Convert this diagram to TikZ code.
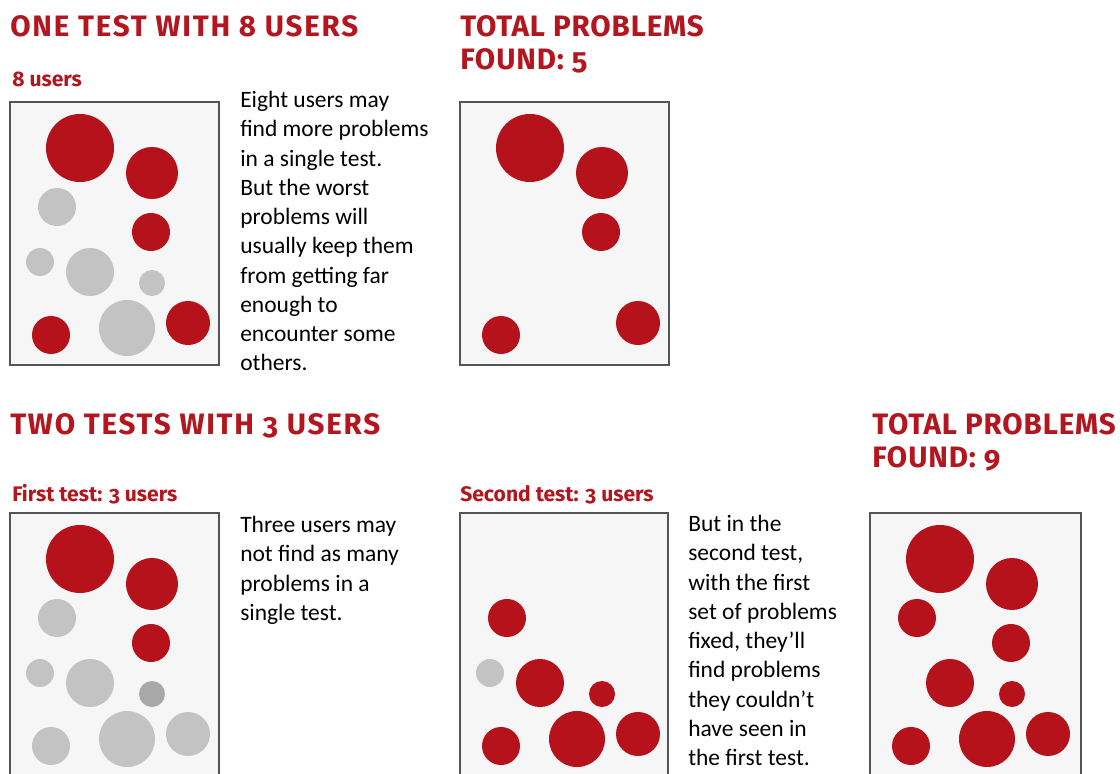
\documentclass[tikz,border=0pt]{standalone}
\usepackage{fontspec}
\setmainfont{Carlito}
\newfontfamily\headfont[Numbers=OldStyle, LetterSpace=6]{Fira Sans}
\newfontfamily\totalfont[Numbers=OldStyle, LetterSpace=3]{Fira Sans}
\newfontfamily\subfont[Numbers=OldStyle]{Fira Sans}
\usepackage{tikz}
\usetikzlibrary{positioning}
\definecolor{probred}{HTML}{B5121B}
\definecolor{headred}{HTML}{B3161E}
\definecolor{missgrey}{HTML}{C3C3C3}
\definecolor{faintgrey}{HTML}{A8A8A8}
\definecolor{boxfill}{HTML}{F6F6F6}
\definecolor{framegrey}{HTML}{555555}

\begin{document}
\begin{tikzpicture}[x=0.025cm, y=-0.025cm,
            head/.style ={anchor=base west, inner sep=0pt, text=headred, align=left,
            font=\headfont\bfseries\fontsize{21}{24}\selectfont},
            total/.style ={head, font=\totalfont\bfseries\fontsize{21}{24}\selectfont},
            sub/.style ={anchor=base west, inner sep=0pt, text=headred,
            font=\subfont\bfseries\fontsize{15}{18}\selectfont},
            note/.style ={anchor=north west, inner sep=0pt, align=left,
            font=\fontsize{16.7}{20.8}\selectfont},
            panel/.style ={draw=framegrey, fill=boxfill, line width=1.6pt},
            found/.style ={circle, fill=probred, inner sep=0pt, minimum size=#1*0.05cm},
            missed/.style ={circle, fill=missgrey, inner sep=0pt, minimum size=#1*0.05cm},
            faint/.style ={circle, fill=faintgrey, inner sep=0pt, minimum size=#1*0.05cm}]

        \useasboundingbox[fill=white] (0,0) rectangle (1120,774);

        % one test with 8 users
        \node[head] (title1) at (10,37) {ONE TEST WITH 8 USERS};
        \node[sub] (sub1) at (12,87) {8 users};
        \draw[panel] (10,102) rectangle (219,365);
        \begin{scope}[shift={(10,102)}]
        \node[found=34] (a1) at (70,46) {};
        \node[found=26] (a2) at (142,71) {};
        \node[missed=19] (a3) at (47,105) {};
        \node[found=19] (a4) at (141,130) {};
        \node[missed=14] (a5) at (30,160) {};
        \node[missed=24] (a6) at (80,170) {};
        \node[missed=13] (a7) at (142,181) {};
        \node[missed=28] (a8) at (117,226) {};
        \node[found=19] (a9) at (41,233) {};
        \node[found=22] (a10) at (178,221) {};
        \end{scope}
        \node[note] (note1) at (240,91) {Eight users may\\find more problems\\in a single test.\\But the worst\\problems will\\usually keep them\\from getting far\\enough to\\encounter some\\others.};

        \node[total] (title2) at (460,70) {TOTAL PROBLEMS\\FOUND: 5};
        \draw[panel] (460,102) rectangle (669,365);
        \begin{scope}[shift={(460,102)}]
        \node[found=34] (b1) at (70,46) {};
        \node[found=26] (b2) at (142,71) {};
        \node[found=19] (b4) at (141,130) {};
        \node[found=19] (b9) at (41,233) {};
        \node[found=22] (b10) at (178,221) {};
        \end{scope}

        % two tests with 3 users
        \node[head] (title3) at (10,435) {TWO TESTS WITH 3 USERS};
        \node[sub] (sub3) at (12,502) {First test: 3 users};
        \draw[panel] (10,513) rectangle (219,778);
        \begin{scope}[shift={(10,513)}]
        \node[found=34] (c1) at (70,46) {};
        \node[found=26] (c2) at (142,71) {};
        \node[missed=19] (c3) at (47,105) {};
        \node[found=19] (c4) at (141,130) {};
        \node[missed=14] (c5) at (30,160) {};
        \node[missed=24] (c6) at (80,170) {};
        \node[faint=13] (c7) at (142,181) {};
        \node[missed=28] (c8) at (117,226) {};
        \node[missed=19] (c9) at (41,233) {};
        \node[missed=22] (c10) at (178,221) {};
        \end{scope}
        \node[note] (note3) at (240,516) {Three users may\\not find as many\\problems in a\\single test.};

        \node[sub] (sub4) at (460,502) {Second test: 3 users};
        \draw[panel] (460,513) rectangle (668,778);
        \begin{scope}[shift={(460,513)}]
        \node[found=19] (d3) at (47,105) {};
        \node[missed=14] (d5) at (30,160) {};
        \node[found=24] (d6) at (80,170) {};
        \node[found=13] (d7) at (142,181) {};
        \node[found=28] (d8) at (117,226) {};
        \node[found=19] (d9) at (41,233) {};
        \node[found=22] (d10) at (178,221) {};
        \end{scope}
        \node[note] (note4) at (688,515) {But in the\\second test,\\with the first\\set of problems\\fixed, they’ll\\find problems\\they couldn’t\\have seen in\\the first test.};

        \node[total] (title5) at (872,468) {TOTAL PROBLEMS\\FOUND: 9};
        \draw[panel] (870,513) rectangle (1081,778);
        \begin{scope}[shift={(870,513)}]
        \node[found=34] (e1) at (70,46) {};
        \node[found=26] (e2) at (142,71) {};
        \node[found=19] (e3) at (47,105) {};
        \node[found=19] (e4) at (141,130) {};
        \node[found=24] (e6) at (80,170) {};
        \node[found=13] (e7) at (142,181) {};
        \node[found=28] (e8) at (117,226) {};
        \node[found=19] (e9) at (41,233) {};
        \node[found=22] (e10) at (178,221) {};
        \end{scope}
    \end{tikzpicture}
\end{document}
